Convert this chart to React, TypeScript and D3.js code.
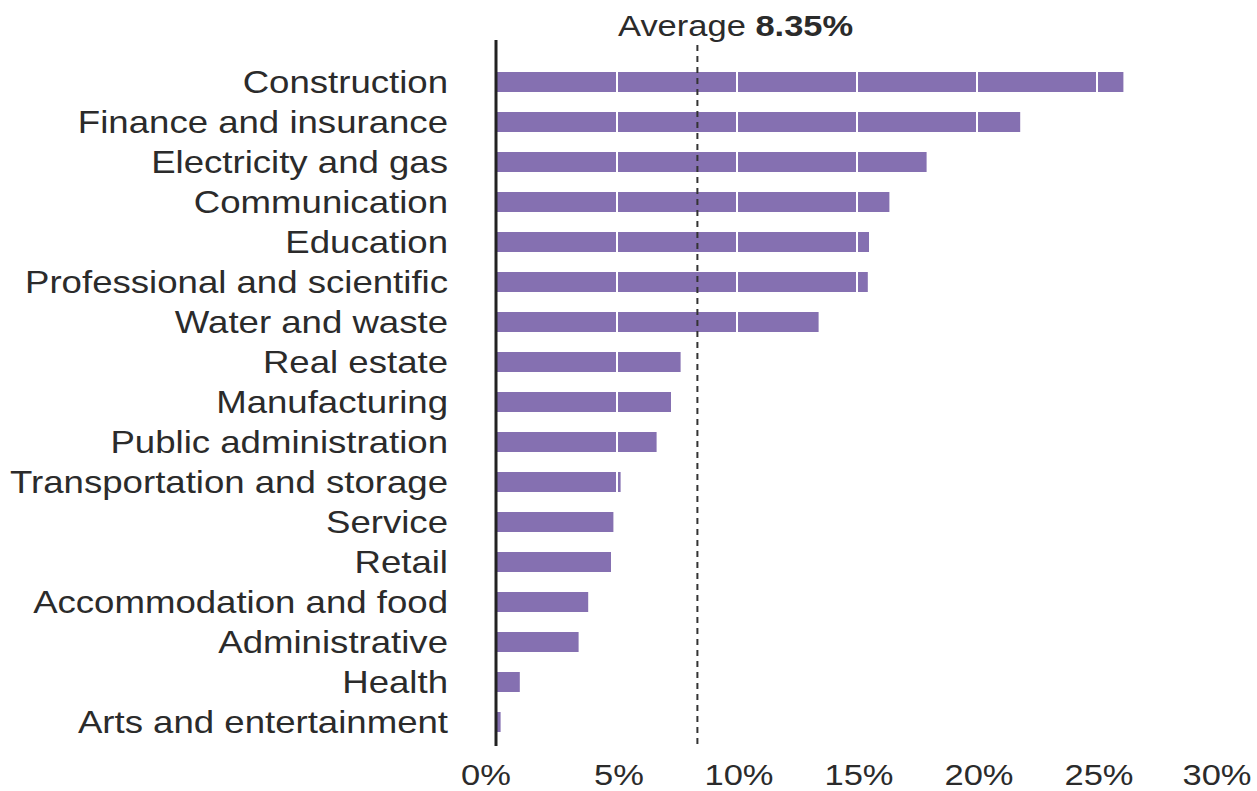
import React from "react";
import * as d3 from "d3";

const categories = [
  "Construction",
  "Finance and insurance",
  "Electricity and gas",
  "Communication",
  "Education",
  "Professional and scientific",
  "Water and waste",
  "Real estate",
  "Manufacturing",
  "Public administration",
  "Transportation and storage",
  "Service",
  "Retail",
  "Accommodation and food",
  "Administrative",
  "Health",
  "Arts and entertainment",
];
const values = [26.1, 21.8, 17.9, 16.35, 15.5, 15.45, 13.4, 7.65, 7.25, 6.65, 5.15, 4.85, 4.75, 3.8, 3.4, 0.95, 0.15];
const ticks = [0, 5, 10, 15, 20, 25, 30];
const average = 8.35;

const W = 1257;
const H = 791;
const FONT = "'Liberation Sans', Arial, sans-serif";
const BAR = "#8570b1";
const TEXT = "#2b2b2b";

export default function App() {
  const x = d3.scaleLinear().domain([0, 30]).range([497, 1217]);
  const y = d3
    .scaleBand<string>()
    .domain(categories)
    .range([62, 742])
    .paddingInner(0.5)
    .paddingOuter(0.25);
  const bw = y.bandwidth();

  return (
    <svg
      width={W}
      height={H}
      style={{ position: "absolute", left: 0, top: 0, background: "#fff" }}
      fontFamily={FONT}
    >
      {categories.map((c, i) => (
        <g key={c}>
          <rect
            x={x(0)}
            y={y(c)!}
            width={x(values[i]) - x(0)}
            height={bw}
            fill={BAR}
          />
          <g transform={`translate(448,${y(c)! + bw / 2}) scale(1.2,1)`}>
            <text dy="0.36em" textAnchor="end" fontSize={30.5} fill={TEXT}>
              {c}
            </text>
          </g>
        </g>
      ))}
      {ticks
        .filter((t) => t > 0 && t < 30)
        .map((t) => (
          <line
            key={"g" + t}
            x1={x(t)}
            x2={x(t)}
            y1={y(categories[0])! - 2}
            y2={y(categories[categories.length - 1])! + bw + 2}
            stroke="#fff"
            strokeWidth={2}
          />
        ))}
      <line
        x1={x(average)}
        x2={x(average)}
        y1={45}
        y2={746}
        stroke="#333"
        strokeWidth={2}
        strokeDasharray="6,5"
      />
      <line x1={496} x2={496} y1={40} y2={746} stroke="#222" strokeWidth={3} />
      {ticks.map((t) => (
        <g
          key={"t" + t}
          transform={`translate(${x(t) + (t === 0 ? -11 : t === 30 ? 0 : 2)},785) scale(1.15,1)`}
        >
          <text textAnchor="middle" fontSize={30} fill={TEXT}>
            {t}%
          </text>
        </g>
      ))}
      <g transform="translate(618,36) scale(1.15,1)">
        <text fontSize={30} fill={TEXT}>
          Average <tspan fontWeight="bold">{average.toFixed(2)}%</tspan>
        </text>
      </g>
    </svg>
  );
}
